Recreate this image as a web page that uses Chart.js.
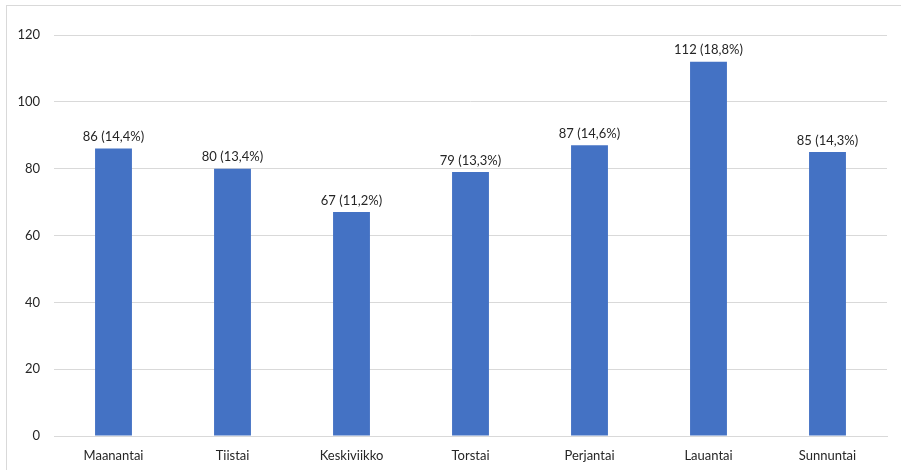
<!DOCTYPE html>
<html>
<head>
<meta charset="utf-8">
<script src="https://cdn.jsdelivr.net/npm/chart.js@4/dist/chart.umd.min.js"></script>
<style>
  html, body { margin: 0; padding: 0; background: #fff; }
  #wrap { position: relative; width: 901px; height: 470px; }
  #frame { position: absolute; left: 6px; top: 5px; right: 0; bottom: 0;
           border-top: 1px solid #d9d9d9; border-left: 1px solid #d9d9d9; pointer-events: none; }
</style>
</head>
<body>
<div id="wrap">
  <canvas id="chart" width="901" height="470"></canvas>
  <div id="frame"></div>
</div>
<script>
// weekday counts
var days = ['Maanantai', 'Tiistai', 'Keskiviikko', 'Torstai', 'Perjantai', 'Lauantai', 'Sunnuntai'];
var counts = [86, 80, 67, 79, 87, 112, 85];
var shares = ['14,4', '13,4', '11,2', '13,3', '14,6', '18,8', '14,3'];
var yTicks = [0, 20, 40, 60, 80, 100, 120];

var FONT = 'Lato, "Open Sans", sans-serif';

// value + share label above each bar
var barLabels = {
	id: 'barLabels',
	afterDatasetsDraw: function(chart) {
		var ctx = chart.ctx;
		var meta = chart.getDatasetMeta(0);
		ctx.save();
		ctx.font = '13px ' + FONT;
		ctx.fillStyle = '#262626';
		ctx.textAlign = 'center';
		ctx.textBaseline = 'bottom';
		meta.data.forEach(function(bar, i) {
			ctx.fillText(counts[i] + ' (' + shares[i] + '%)', bar.x, bar.y - 5);
		});
		ctx.restore();
	}
};

new Chart(document.getElementById('chart'), {
	type: 'bar',
	data: {
		labels: days,
		datasets: [{
			data: counts,
			backgroundColor: '#4472c4',
			categoryPercentage: 1,
			barPercentage: 0.31
		}]
	},
	options: {
		responsive: false,
		animation: false,
		layout: { padding: { left: 0, right: 14, top: 35, bottom: 0 } },
		plugins: { legend: { display: false }, tooltip: { enabled: false } },
		scales: {
			x: {
				grid: { display: false, drawTicks: false },
				border: { color: '#d9d9d9', width: 1 },
				ticks: { color: '#262626', font: { family: FONT, size: 13 }, padding: 12, maxRotation: 0 },
				afterFit: function(scale) { scale.height = 34; }
			},
			y: {
				min: 0,
				max: 120,
				afterBuildTicks: function(scale) {
					scale.ticks = yTicks.map(function(v) { return { value: v }; });
				},
				grid: { color: '#d9d9d9', drawTicks: false },
				border: { display: false },
				ticks: { color: '#262626', font: { family: FONT, size: 13 }, padding: 14 },
				afterFit: function(scale) { scale.width = 54; }
			}
		}
	},
	plugins: [barLabels]
});
</script>
</body>
</html>
